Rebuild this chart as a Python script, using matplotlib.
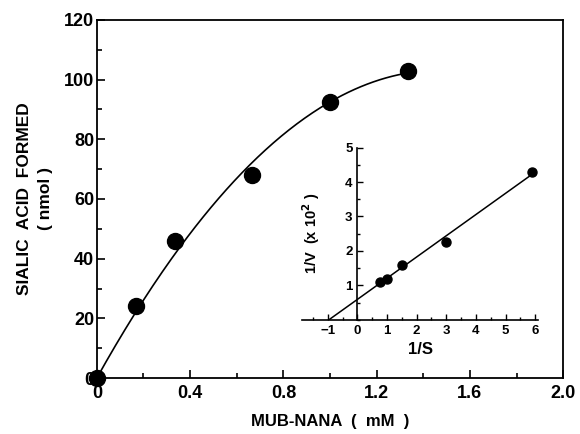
import numpy as np
import matplotlib
matplotlib.use("Agg")
import matplotlib.pyplot as plt
from matplotlib.ticker import MultipleLocator

plt.rcParams['font.family'] = ['Liberation Sans', 'DejaVu Sans']
plt.rcParams['font.weight'] = 'bold'

# Main plot data
conc = [0.0, 0.167, 0.333, 0.667, 1.0, 1.333]          # MUB-NANA (mM)
sialic = [0.0, 24.0, 46.0, 68.0, 92.5, 103.0]            # nmol
x_ticks = [0, 0.4, 0.8, 1.2, 1.6, 2.0]
x_tick_labels = ['0', '0.4', '0.8', '1.2', '1.6', '2.0']
y_ticks = [0, 20, 40, 60, 80, 100, 120]

# Inset (Lineweaver-Burk) data
inv_s = [0.75, 1.0, 1.5, 3.0, 5.9]
inv_v = [1.1, 1.2, 1.6, 2.25, 4.3]
inset_xticks = [-1, 0, 1, 2, 3, 4, 5, 6]
inset_yticks = [1, 2, 3, 4, 5]

fig = plt.figure(figsize=(5.8, 4.34), dpi=100)
ax = fig.add_axes([0.167, 0.129, 0.804, 0.825])

# smooth fitted curve through origin (quadratic least squares, no intercept)
c = np.array(conc); s = np.array(sialic)
A = np.vstack([c, c**2]).T
coef, *_ = np.linalg.lstsq(A, s, rcond=None)
xc = np.linspace(0, max(conc), 200)
ax.plot(xc, coef[0]*xc + coef[1]*xc**2, color='black', lw=1.2)
ax.plot(conc, sialic, 'o', color='black', ms=11.5, clip_on=False, zorder=5)

ax.set_xlim(0, 2.0)
ax.set_ylim(0, 120)
ax.set_xticks(x_ticks)
ax.set_xticklabels(x_tick_labels)
ax.set_yticks(y_ticks)
ax.xaxis.set_minor_locator(MultipleLocator(0.2))
ax.yaxis.set_minor_locator(MultipleLocator(10))
ax.tick_params(which='both', direction='in', top=False, right=False,
               labelsize=13, width=1.2)
ax.tick_params(which='major', length=6)
ax.tick_params(which='minor', length=3.5)
ax.tick_params(axis='x', pad=5)
ax.tick_params(axis='y', pad=2)
for sp in ax.spines.values():
    sp.set_linewidth(1.3)
ax.set_xlabel('MUB-NANA  (  mM  )', fontsize=12, fontweight='bold', labelpad=9)
ax.set_ylabel('SIALIC  ACID  FORMED\n( nmol )', fontsize=12.5, fontweight='bold',
              labelpad=8, linespacing=1.45)

# Inset
ins = fig.add_axes([0.521, 0.263, 0.407, 0.397])
ins.patch.set_alpha(0)
b = np.polyfit(inv_s, inv_v, 1)
x0 = -b[1]/b[0]
xl = np.linspace(x0, max(inv_s), 50)
ins.plot(xl, np.polyval(b, xl), color='black', lw=1.1)
ins.plot(inv_s, inv_v, 'o', color='black', ms=6.5, clip_on=False, zorder=5)
ins.set_xlim(-1.86, 6.1)
ins.set_ylim(0, 5)
ins.spines['top'].set_visible(False)
ins.spines['right'].set_visible(False)
ins.spines['left'].set_position(('data', 0))
ins.spines['left'].set_linewidth(1.2)
ins.spines['bottom'].set_linewidth(1.2)
ins.set_xticks(inset_xticks)
ins.set_yticks(inset_yticks)
ins.xaxis.set_minor_locator(MultipleLocator(0.5))
ins.yaxis.set_minor_locator(MultipleLocator(0.5))
ins.tick_params(which='both', direction='in', labelsize=9.5, width=1)
ins.tick_params(which='major', length=4)
ins.tick_params(which='minor', length=2)
ins.set_xlabel('1/S', fontsize=12, fontweight='bold', labelpad=4)
ins.text(-1.55, 2.5, r'1/V  (x 10$^{\mathbf{2}}$ )', rotation=90, ha='center',
         va='center', fontsize=10.5, fontweight='bold')

fig.savefig('out.png', dpi=100)
